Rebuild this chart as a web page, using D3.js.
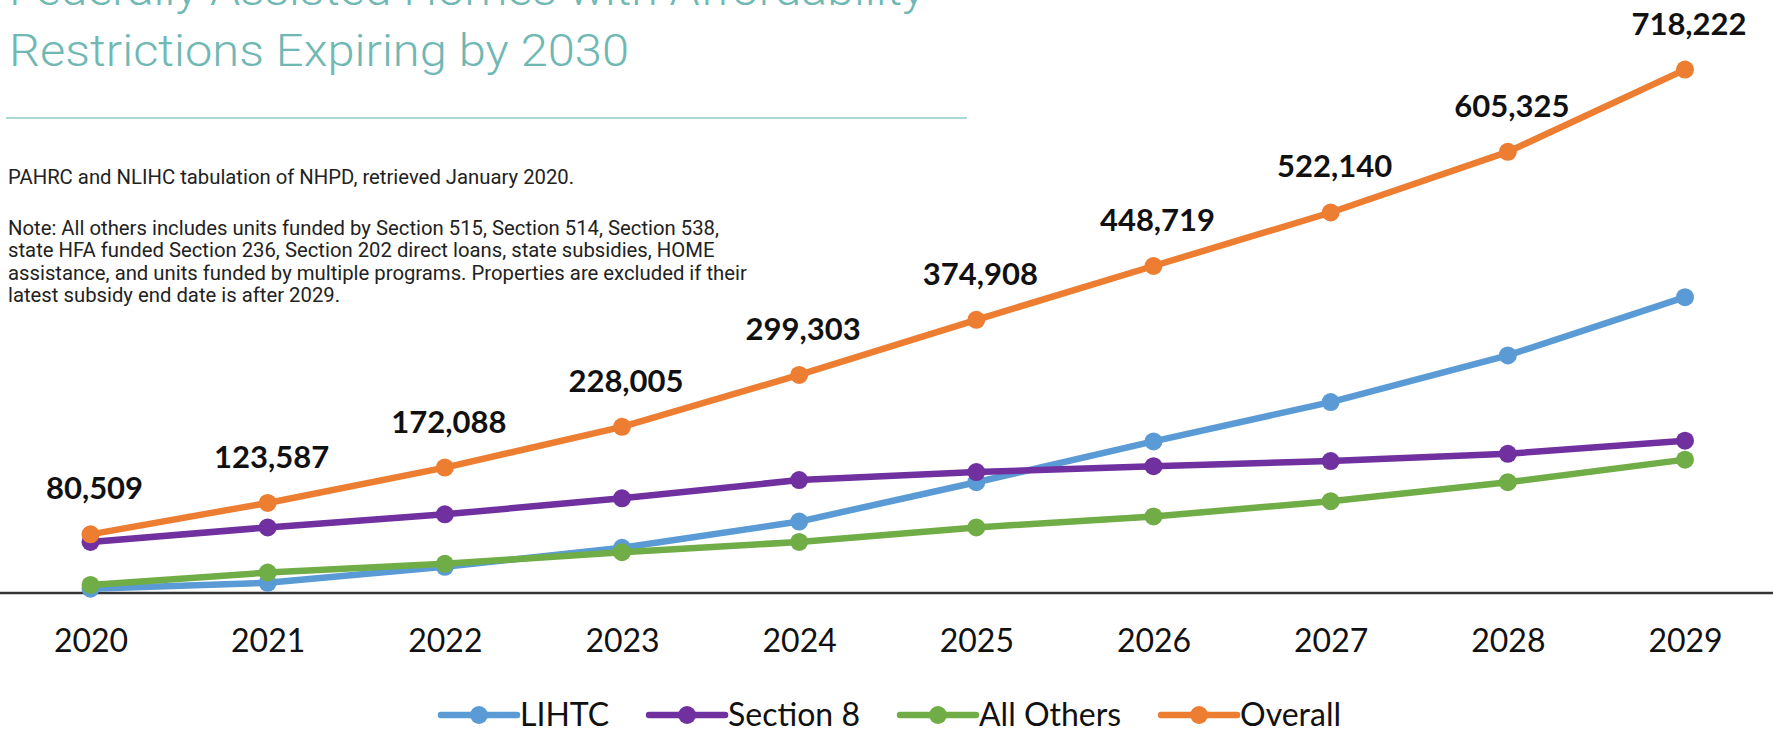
<!DOCTYPE html>
<html>
<head>
<meta charset="utf-8">
<script src="https://cdnjs.cloudflare.com/ajax/libs/d3/7.8.5/d3.min.js"></script>
<style>
  body { margin: 0; background: #fff; }
  svg { display: block; }
</style>
</head>
<body>
<div id="chart"></div>
<script>
// data
const years = [2020, 2021, 2022, 2023, 2024, 2025, 2026, 2027, 2028, 2029];
const lihtc = [6000, 14000, 36000, 62000, 98000, 152000, 208000, 262000, 326000, 406000];
const section8 = [70000, 90000, 108000, 130000, 155000, 166000, 174000, 181000, 191000, 209000];
const allOthers = [11000, 28000, 40000, 56000, 70000, 90000, 105000, 126000, 152000, 183000];
const overall = [80509, 123587, 172088, 228005, 299303, 374908, 448719, 522140, 605325, 718222];
const seriesNames = ["LIHTC", "Section 8", "All Others", "Overall"];

const titleLines = ["Federally Assisted Homes with Affordability", "Restrictions Expiring by 2030"];
const sourceLine = "PAHRC and NLIHC tabulation of NHPD, retrieved January 2020.";
const noteLines = [
  "Note: All others includes units funded by Section 515, Section 514, Section 538,",
  "state HFA funded Section 236, Section 202 direct loans, state subsidies, HOME",
  "assistance, and units funded by multiple programs. Properties are excluded if their",
  "latest subsidy end date is after 2029."
];

const width = 1773, height = 731;

const series = seriesNames.map((name, i) => ({
  name,
  values: [lihtc, section8, allOthers, overall][i].map((v, j) => ({ year: years[j], value: v }))
}));

const color = d3.scaleOrdinal()
  .domain(seriesNames)
  .range(["#5b9bd5", "#7030a0", "#70ad47", "#ed7d31"]);

const svg = d3.select("#chart").append("svg")
  .attr("width", width)
  .attr("height", height);

// title block, stretched to the widths measured on the picture
const titleWidths = [916, 620];
svg.append("g").selectAll("text")
  .data(titleLines)
  .join("text")
  .attr("x", 9)
  .attr("y", (d, i) => 5 + i * 61)
  .attr("fill", "#6fb8b3")
  .attr("textLength", (d, i) => titleWidths[i])
  .attr("lengthAdjust", "spacingAndGlyphs")
  .style("font-family", "Roboto")
  .style("font-weight", 300)
  .style("font-size", "45px")
  .text(d => d);

svg.append("line")
  .attr("x1", 6).attr("x2", 967)
  .attr("y1", 118).attr("y2", 118)
  .attr("stroke", "#8ecbc6")
  .attr("stroke-width", 1.5);

svg.append("text")
  .attr("x", 8)
  .attr("y", 184)
  .attr("fill", "#222")
  .style("font-family", "Roboto")
  .style("font-size", "20.3px")
  .text(sourceLine);

svg.append("g").selectAll("text")
  .data(noteLines)
  .join("text")
  .attr("x", 8)
  .attr("y", (d, i) => 235 + i * 22.4)
  .attr("fill", "#222")
  .style("font-family", "Roboto")
  .style("font-size", "20.3px")
  .text(d => d);

// scales
const x = d3.scalePoint()
  .domain(years)
  .range([90.5, 1685]);

const y = d3.scaleLinear()
  .domain([0, 800000])
  .range([593, 10]);

// axis
svg.append("line")
  .attr("x1", 0).attr("x2", width)
  .attr("y1", y(0)).attr("y2", y(0))
  .attr("stroke", "#333")
  .attr("stroke-width", 2.5);

const xAxis = svg.append("g")
  .attr("transform", `translate(0,${y(0)})`)
  .call(d3.axisBottom(x).tickSize(0).tickPadding(36));
xAxis.select(".domain").remove();
xAxis.selectAll("text")
  .attr("fill", "#111")
  .style("font-family", "Lato")
  .style("font-size", "32px");

// lines
const line = d3.line()
  .x(d => x(d.year))
  .y(d => y(d.value));

const lines = svg.append("g");
series.forEach(s => {
  const g = lines.append("g");
  g.append("path")
    .datum(s.values)
    .attr("fill", "none")
    .attr("stroke", color(s.name))
    .attr("stroke-width", 6.5)
    .attr("stroke-linejoin", "round")
    .attr("d", line);
  g.selectAll("circle")
    .data(s.values)
    .join("circle")
    .attr("cx", d => x(d.year))
    .attr("cy", d => y(d.value))
    .attr("r", 9)
    .attr("fill", color(s.name));
});

// labels on Overall
svg.append("g").selectAll("text")
  .data(series[3].values)
  .join("text")
  .attr("x", d => x(d.year) + 4)
  .attr("y", d => y(d.value) - 35)
  .attr("text-anchor", "middle")
  .attr("fill", "#111")
  .style("font-family", "Lato")
  .style("font-weight", 700)
  .style("font-size", "31px")
  .text(d => d3.format(",")(d.value));

// legend
const legend = svg.append("g").attr("transform", "translate(441,715)");
let lx = 0;
seriesNames.forEach(name => {
  const item = legend.append("g").attr("transform", `translate(${lx},0)`);
  item.append("line")
    .attr("x1", 0).attr("x2", 76)
    .attr("y1", 0).attr("y2", 0)
    .attr("stroke", color(name))
    .attr("stroke-width", 6.5)
    .attr("stroke-linecap", "round");
  item.append("circle")
    .attr("cx", 38).attr("cy", 0).attr("r", 9)
    .attr("fill", color(name));
  const t = item.append("text")
    .attr("x", 79)
    .attr("y", 11)
    .attr("fill", "#111")
    .style("font-family", "Lato")
    .style("font-size", "32px")
    .text(name);
  lx += 79 + t.node().getComputedTextLength() + 40;
});
</script>
</body>
</html>
